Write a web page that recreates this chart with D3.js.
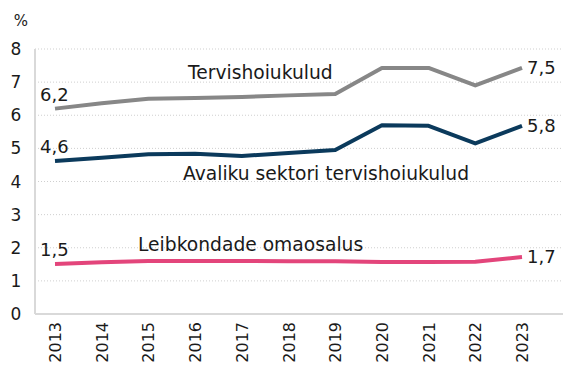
<!DOCTYPE html>
<html lang="et">
<head>
<meta charset="utf-8">
<title>Tervishoiukulud</title>
<script src="https://cdnjs.cloudflare.com/ajax/libs/d3/7.8.5/d3.min.js"></script>
<style>
  html, body { margin: 0; padding: 0; background: white; }
  svg text { font-family: "DejaVu Sans", sans-serif; fill: #1a1a1a; }
</style>
</head>
<body>
<svg id="chart" width="574" height="383"></svg>
<script>
// data (% of GDP)
var years = [2013, 2014, 2015, 2016, 2017, 2018, 2019, 2020, 2021, 2022, 2023];
var total   = [6.2, 6.36, 6.5, 6.52, 6.55, 6.6, 6.64, 7.43, 7.43, 6.9, 7.43];
var public_ = [4.62, 4.72, 4.82, 4.84, 4.77, 4.86, 4.95, 5.7, 5.68, 5.15, 5.68];
var household = [1.51, 1.56, 1.6, 1.6, 1.6, 1.59, 1.59, 1.57, 1.57, 1.58, 1.72];
var yTicks = [0, 1, 2, 3, 4, 5, 6, 7, 8];

var series = [
  {name: "Tervishoiukulud", values: total, color: "#878787",
   first: "6,2", last: "7,5", nameX: 188, nameY: 79},
  {name: "Avaliku sektori tervishoiukulud", values: public_, color: "#0b3a5c",
   first: "4,6", last: "5,8", nameX: 183, nameY: 180},
  {name: "Leibkondade omaosalus", values: household, color: "#e3457b",
   first: "1,5", last: "1,7", nameX: 138, nameY: 251}
];

var svg = d3.select("#chart");

var plotLeft = 35, plotRight = 563, plotTop = 49, plotBottom = 314;

var x = d3.scaleLinear().domain([2013, 2023]).range([55, 522]);
var y = d3.scaleLinear().domain([0, 8]).range([plotBottom, plotTop]);

// dotted gridlines
svg.append("g")
  .selectAll("line")
  .data(yTicks.filter(function(d){ return d > 0; }))
  .enter().append("line")
  .attr("x1", plotLeft).attr("x2", plotRight)
  .attr("y1", function(d){ return y(d); })
  .attr("y2", function(d){ return y(d); })
  .style("stroke", "#cfcfcf")
  .style("stroke-width", 1)
  .style("stroke-dasharray", "1,2");

// axis lines
svg.append("line")
  .attr("x1", plotLeft).attr("x2", plotLeft).attr("y1", plotTop).attr("y2", plotBottom)
  .style("stroke", "#d9d9d9").style("stroke-width", 2);
svg.append("line")
  .attr("x1", plotLeft).attr("x2", plotRight).attr("y1", plotBottom).attr("y2", plotBottom)
  .style("stroke", "#d9d9d9").style("stroke-width", 2);

// y tick labels
svg.append("g")
  .selectAll("text")
  .data(yTicks)
  .enter().append("text")
  .attr("x", 16)
  .attr("y", function(d){ return y(d) + 6; })
  .attr("text-anchor", "middle")
  .style("font-size", "17px")
  .text(function(d){ return d; });

svg.append("text")
  .attr("x", 21).attr("y", 26)
  .attr("text-anchor", "middle")
  .style("font-size", "15px")
  .text("%");

// x tick labels, rotated
svg.append("g")
  .selectAll("text")
  .data(years)
  .enter().append("text")
  .attr("transform", function(d){ return "translate(" + (x(d) + 6) + "," + 322 + ") rotate(-90)"; })
  .attr("text-anchor", "end")
  .style("font-size", "16px")
  .text(function(d){ return d; });

// lines
var line = d3.line()
  .x(function(d, i){ return x(years[i]); })
  .y(function(d){ return y(d); });

series.forEach(function(s) {
  svg.append("path")
    .datum(s.values)
    .attr("d", line)
    .style("fill", "none")
    .style("stroke", s.color)
    .style("stroke-width", 4)
    .style("stroke-linejoin", "round");

  // series name
  svg.append("text")
    .attr("x", s.nameX).attr("y", s.nameY)
    .style("font-size", "18.7px")
    .text(s.name);

  // first and last value labels
  svg.append("text")
    .attr("x", x(years[0]) - 15)
    .attr("y", y(s.values[0]) - 8)
    .style("font-size", "18px")
    .text(s.first);

  svg.append("text")
    .attr("x", x(years[years.length - 1]) + 5)
    .attr("y", y(s.values[s.values.length - 1]) + 6)
    .style("font-size", "18px")
    .text(s.last);
});
</script>
</body>
</html>
